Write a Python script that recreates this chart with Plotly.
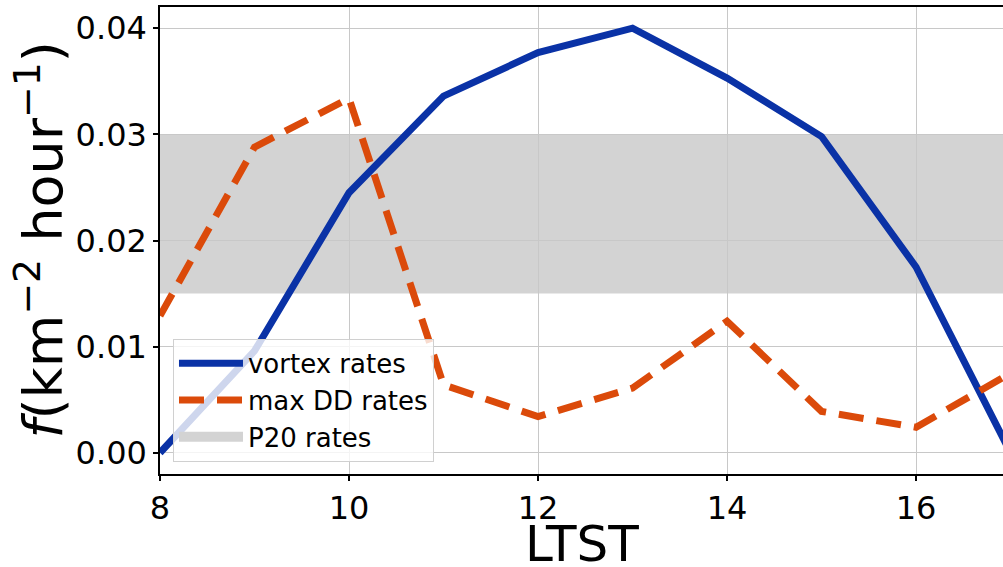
import plotly.graph_objects as go

# ----------------------------
# Data
# ----------------------------
ltst = [8, 9, 10, 11, 12, 13, 14, 15, 16, 17]
vortex_rates = [0.0000, 0.0096, 0.0245, 0.0336, 0.0377, 0.0400, 0.0353, 0.0298, 0.0175, 0.0000]
max_dd_rates = [0.0129, 0.0288, 0.0334, 0.0064, 0.0034, 0.0061, 0.0124, 0.0039, 0.0024, 0.0075]
p20_low = 0.015
p20_high = 0.030
x_ticks = [8, 10, 12, 14, 16]
y_ticks = [0.00, 0.01, 0.02, 0.03, 0.04]

BLUE = "#0a32a6"
ORANGE = "#db4a0a"
GRAY = "#d3d3d3"
FONT = "DejaVu Sans"

fig = go.Figure()

# P20 band, under the grid like matplotlib's axhspan
fig.add_shape(
    type="rect", xref="x domain", yref="y",
    x0=0, x1=1, y0=p20_low, y1=p20_high,
    fillcolor=GRAY, line=dict(width=0), layer="below",
)

fig.add_trace(go.Scatter(
    x=ltst, y=vortex_rates, mode="lines", name="vortex rates",
    line=dict(color=BLUE, width=7),
))
fig.add_trace(go.Scatter(
    x=ltst, y=max_dd_rates, mode="lines", name="max DD rates",
    line=dict(color=ORANGE, width=7, dash="25px,13px"),
))
# legend proxy for the band
fig.add_trace(go.Scatter(
    x=[None], y=[None], mode="lines", name="P20 rates",
    line=dict(color=GRAY, width=20),
))

fig.update_layout(
    width=1003, height=567,
    margin=dict(l=160, r=0, t=7, b=93),
    plot_bgcolor="white", paper_bgcolor="white",
    font=dict(family=FONT, color="black"),
    showlegend=True,
    legend=dict(
        x=0.0154, y=0.026, xanchor="left", yanchor="bottom",
        bgcolor="rgba(255,255,255,0.8)", bordercolor="#d0d0d0", borderwidth=1,
        font=dict(size=26, family=FONT), tracegroupgap=0, itemwidth=64,
    ),
)

fig.update_xaxes(
    range=[8, 16.92], tickvals=x_ticks,
    showgrid=True, gridcolor="#c8c8c8", gridwidth=1,
    showline=True, linecolor="black", linewidth=1.5, mirror=True,
    ticks="outside", ticklen=5, tickwidth=2, tickcolor="black",
    tickfont=dict(size=32), zeroline=False,
)
fig.update_yaxes(
    range=[-0.002, 0.042], tickvals=y_ticks, tickformat=".2f",
    showgrid=True, gridcolor="#c8c8c8", gridwidth=1,
    showline=True, linecolor="black", linewidth=1.5,
    ticks="outside", ticklen=5, tickwidth=2, tickcolor="black",
    tickfont=dict(size=32), zeroline=False,
)

# axis titles
fig.add_annotation(
    text="LTST", xref="paper", yref="paper", x=0.5, y=-0.0835,
    xanchor="center", yanchor="top", showarrow=False,
    font=dict(size=50, family=FONT),
)
fig.add_annotation(
    text="<i>f</i>(km<sup>\u22122</sup> hour<sup>\u22121</sup>)",
    xref="paper", yref="paper", x=-0.1423, y=0.5,
    xanchor="center", yanchor="middle", textangle=-90, showarrow=False,
    font=dict(size=54, family=FONT),
)

# drop the default 8px body margin so the figure fills the window
fig.write_html(
    "out.html",
    config={"displayModeBar": False},
    post_script="document.body.style.margin='0';",
)
